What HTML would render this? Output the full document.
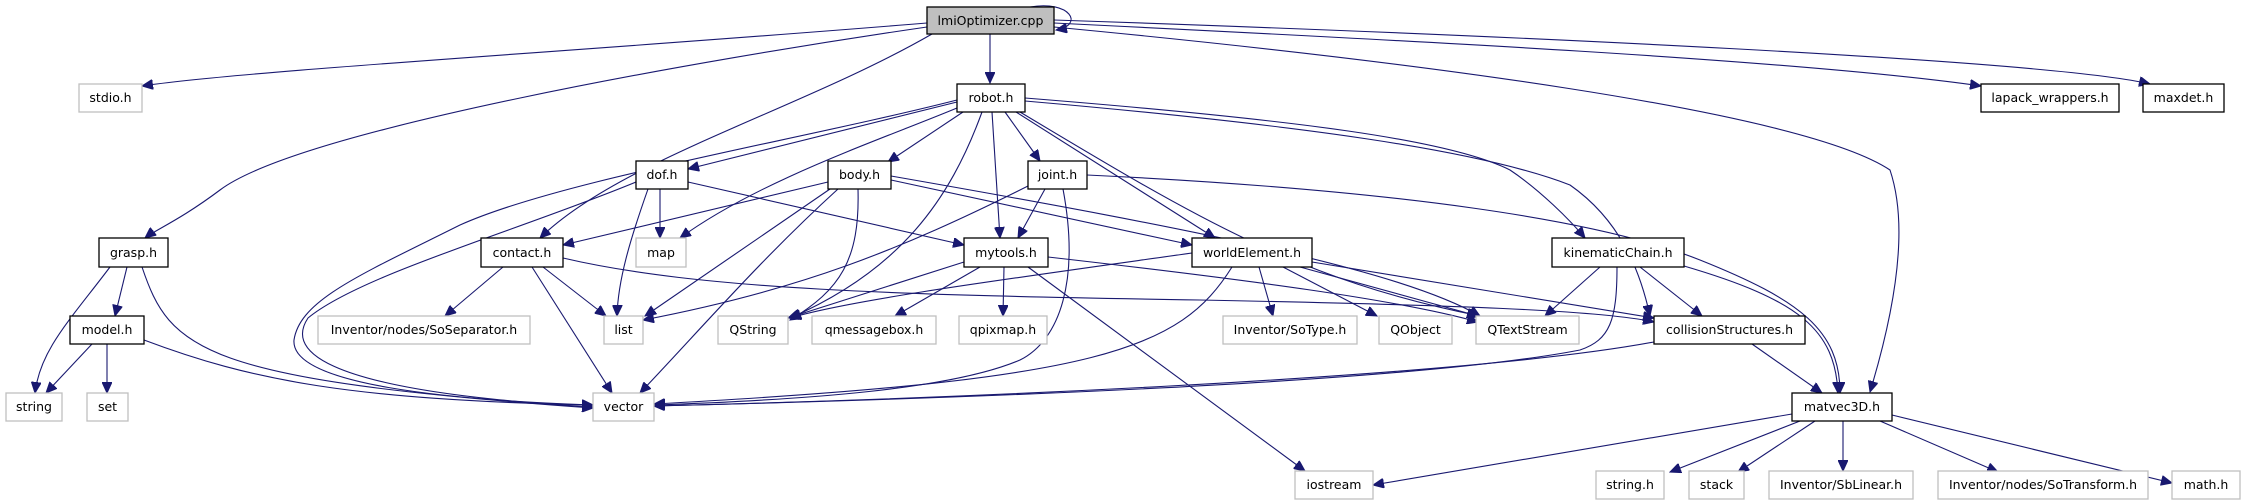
<!DOCTYPE html>
<html><head><meta charset="utf-8">
<style>
html,body{margin:0;padding:0;background:#fff;}
svg{display:block;}
text{font-family:"DejaVu Sans","Liberation Sans",sans-serif;font-size:12.5px;fill:#000;}
.b{fill:#fff;stroke:#000;stroke-width:1.3;}
.g{fill:#fff;stroke:#bfbfbf;stroke-width:1.3;}
path{fill:none;stroke:#191970;stroke-width:1.1;}
</style></head>
<body>
<svg width="2244" height="504" viewBox="0 0 2244 504" xmlns="http://www.w3.org/2000/svg">
<defs>
<marker id="a" markerUnits="userSpaceOnUse" markerWidth="12" markerHeight="10" refX="11" refY="5" orient="auto">
<polygon points="0,0 11,5 0,10" fill="#191970" stroke="#191970"/>
</marker>
</defs>
<g marker-end="url(#a)">
<path d="M1030,7 C1070,0 1085,25 1056,30"/>
<path d="M927,23 C600,50 250,70 142,86"/>
<path d="M927,27 C700,60 300,130 220,190 C180,220 155,230 145,238"/>
<path d="M932,34 C800,110 620,160 540,238"/>
<path d="M990,34 L990,83"/>
<path d="M1054,23 C1400,40 1800,60 1981,86"/>
<path d="M1054,20 C1500,35 2050,60 2150,84"/>
<path d="M1054,27 C1400,60 1800,110 1890,170 C1900,200 1910,260 1870,392"/>
<path d="M957,102 L688,169"/>
<path d="M963,112 L888,162"/>
<path d="M1005,112 L1040,161"/>
<path d="M992,112 L1000,238"/>
<path d="M1016,112 L1215,238"/>
<path d="M1025,98 C1300,120 1450,140 1510,170 C1540,190 1570,220 1585,238"/>
<path d="M1025,101 C1300,125 1480,150 1570,185 C1620,220 1640,270 1650,316"/>
<path d="M1020,112 C1200,220 1300,280 1480,316"/>
<path d="M982,112 C950,200 900,270 790,318"/>
<path d="M957,108 C880,140 760,180 680,238"/>
<path d="M957,100 C800,140 560,180 460,225 C360,275 300,300 294,340 C290,385 450,400 593,405"/>
<path d="M660,189 L660,238"/>
<path d="M648,189 C630,240 618,280 617,316"/>
<path d="M688,182 L964,245"/>
<path d="M636,182 C520,230 360,275 308,318 C290,345 300,390 593,407"/>
<path d="M828,182 L563,245"/>
<path d="M830,189 L645,316"/>
<path d="M838,189 C760,260 700,330 640,393"/>
<path d="M858,189 C860,260 840,290 790,320"/>
<path d="M891,180 L1192,245"/>
<path d="M891,176 C1200,230 1400,270 1480,316"/>
<path d="M1045,189 L1018,238"/>
<path d="M1028,186 C900,250 800,290 643,320"/>
<path d="M1063,189 C1080,280 1060,340 1020,360 C950,390 800,400 654,405"/>
<path d="M1087,175 C1400,190 1600,220 1700,260 C1800,300 1840,330 1840,393"/>
<path d="M110,267 C70,320 40,350 35,393"/>
<path d="M127,267 L115,316"/>
<path d="M142,267 C170,350 200,380 593,408"/>
<path d="M92,344 L46,393"/>
<path d="M107,344 L107,393"/>
<path d="M144,340 C250,380 350,400 593,405"/>
<path d="M503,267 L445,316"/>
<path d="M543,267 L606,316"/>
<path d="M532,267 L612,393"/>
<path d="M563,258 C700,290 900,295 1200,300 C1450,305 1600,310 1654,322"/>
<path d="M964,262 L788,318"/>
<path d="M980,267 L895,316"/>
<path d="M1004,267 L1003,316"/>
<path d="M1028,267 L1305,471"/>
<path d="M1048,257 C1250,280 1400,300 1478,322"/>
<path d="M1192,253 C1000,280 850,300 790,318"/>
<path d="M1259,267 L1273,316"/>
<path d="M1283,267 L1377,316"/>
<path d="M1300,267 L1478,316"/>
<path d="M1312,262 L1654,318"/>
<path d="M1232,267 C1180,350 1100,380 654,404"/>
<path d="M1600,267 L1545,316"/>
<path d="M1640,267 L1702,316"/>
<path d="M1684,266 C1800,300 1835,330 1838,393"/>
<path d="M1617,267 C1617,320 1610,340 1580,350 C1400,385 900,400 654,406"/>
<path d="M1752,344 L1822,393"/>
<path d="M1654,342 C1450,380 900,400 654,406"/>
<path d="M1792,414 L1373,485"/>
<path d="M1800,421 L1670,472"/>
<path d="M1815,421 L1738,472"/>
<path d="M1843,421 L1843,471"/>
<path d="M1880,421 L1998,472"/>
<path d="M1892,415 L2172,483"/>
</g>
<rect x="927" y="7" width="127" height="27" fill="#bfbfbf" stroke="#000" stroke-width="1.3"/>
<text x="990.5" y="25" text-anchor="middle">lmiOptimizer.cpp</text>
<rect class="g" x="79" y="84" width="63" height="28"/><text x="110.5" y="102" text-anchor="middle">stdio.h</text>
<rect class="b" x="957" y="84" width="68" height="28"/><text x="991" y="102" text-anchor="middle">robot.h</text>
<rect class="b" x="1981" y="84" width="138" height="28"/><text x="2050" y="102" text-anchor="middle">lapack_wrappers.h</text>
<rect class="b" x="2143" y="84" width="81" height="28"/><text x="2183.5" y="102" text-anchor="middle">maxdet.h</text>
<rect class="b" x="636" y="161" width="52" height="28"/><text x="662" y="179" text-anchor="middle">dof.h</text>
<rect class="b" x="828" y="161" width="63" height="28"/><text x="859.5" y="179" text-anchor="middle">body.h</text>
<rect class="b" x="1028" y="161" width="59" height="28"/><text x="1057.5" y="179" text-anchor="middle">joint.h</text>
<rect class="b" x="99" y="238" width="69" height="29"/><text x="133.5" y="257" text-anchor="middle">grasp.h</text>
<rect class="b" x="481" y="238" width="82" height="29"/><text x="522" y="257" text-anchor="middle">contact.h</text>
<rect class="g" x="636" y="238" width="50" height="29"/><text x="661" y="257" text-anchor="middle">map</text>
<rect class="b" x="964" y="238" width="84" height="29"/><text x="1006" y="257" text-anchor="middle">mytools.h</text>
<rect class="b" x="1192" y="238" width="120" height="29"/><text x="1252" y="257" text-anchor="middle">worldElement.h</text>
<rect class="b" x="1552" y="238" width="132" height="29"/><text x="1618" y="257" text-anchor="middle">kinematicChain.h</text>
<rect class="b" x="70" y="316" width="74" height="28"/><text x="107" y="334" text-anchor="middle">model.h</text>
<rect class="g" x="318" y="316" width="212" height="28"/><text x="424" y="334" text-anchor="middle">Inventor/nodes/SoSeparator.h</text>
<rect class="g" x="604" y="316" width="39" height="28"/><text x="623.5" y="334" text-anchor="middle">list</text>
<rect class="g" x="718" y="316" width="70" height="28"/><text x="753" y="334" text-anchor="middle">QString</text>
<rect class="g" x="812" y="316" width="124" height="28"/><text x="874" y="334" text-anchor="middle">qmessagebox.h</text>
<rect class="g" x="959" y="316" width="88" height="28"/><text x="1003" y="334" text-anchor="middle">qpixmap.h</text>
<rect class="g" x="1223" y="316" width="134" height="28"/><text x="1290" y="334" text-anchor="middle">Inventor/SoType.h</text>
<rect class="g" x="1379" y="316" width="73" height="28"/><text x="1415.5" y="334" text-anchor="middle">QObject</text>
<rect class="g" x="1476" y="316" width="103" height="28"/><text x="1527.5" y="334" text-anchor="middle">QTextStream</text>
<rect class="b" x="1654" y="316" width="151" height="28"/><text x="1729.5" y="334" text-anchor="middle">collisionStructures.h</text>
<rect class="g" x="6" y="393" width="56" height="28"/><text x="34" y="411" text-anchor="middle">string</text>
<rect class="g" x="87" y="393" width="41" height="28"/><text x="107.5" y="411" text-anchor="middle">set</text>
<rect class="g" x="593" y="393" width="61" height="28"/><text x="623.5" y="411" text-anchor="middle">vector</text>
<rect class="b" x="1792" y="393" width="100" height="28"/><text x="1842" y="411" text-anchor="middle">matvec3D.h</text>
<rect class="g" x="1295" y="471" width="78" height="28"/><text x="1334" y="489" text-anchor="middle">iostream</text>
<rect class="g" x="1596" y="471" width="68" height="28"/><text x="1630" y="489" text-anchor="middle">string.h</text>
<rect class="g" x="1689" y="471" width="55" height="28"/><text x="1716.5" y="489" text-anchor="middle">stack</text>
<rect class="g" x="1769" y="471" width="144" height="28"/><text x="1841" y="489" text-anchor="middle">Inventor/SbLinear.h</text>
<rect class="g" x="1938" y="471" width="210" height="28"/><text x="2043" y="489" text-anchor="middle">Inventor/nodes/SoTransform.h</text>
<rect class="g" x="2172" y="471" width="68" height="28"/><text x="2206" y="489" text-anchor="middle">math.h</text>
</svg>
</body></html>
